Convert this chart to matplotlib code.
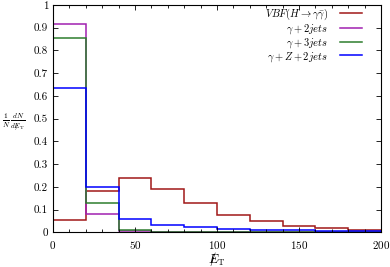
import matplotlib
matplotlib.use('Agg')
import matplotlib.pyplot as plt
from matplotlib.ticker import MultipleLocator, FormatStrFormatter
import numpy as np

plt.rcParams['font.family'] = 'serif'
plt.rcParams['font.serif'] = ['cmr10']
plt.rcParams['mathtext.fontset'] = 'cm'
plt.rcParams['axes.formatter.use_mathtext'] = True

# bin edges (missing E_T), 20 GeV bins
edges = np.arange(0, 201, 20)

vbf = [0.055, 0.18, 0.24, 0.19, 0.127, 0.077, 0.048, 0.028, 0.018, 0.010]
gam2j = [0.915, 0.08, 0.004, 0.001, 0.0, 0.0, 0.0, 0.0, 0.0, 0.0]
gam3j = [0.855, 0.13, 0.010, 0.002, 0.0, 0.0, 0.0, 0.0, 0.0, 0.0]
gamz2j = [0.635, 0.20, 0.058, 0.033, 0.022, 0.016, 0.010, 0.008, 0.006, 0.004]

labels = [r'$VBF(H\rightarrow\gamma\bar{\gamma})$', r'$\gamma + 2jets$',
          r'$\gamma + 3jets$', r'$\gamma + Z + 2jets$']
colors = ['#a01818', '#a020b0', '#2e7d2e', '#0000ff']

fig = plt.figure(figsize=(3.9, 2.67), dpi=100)
ax = fig.add_axes([0.136, 0.130, 0.841, 0.852])

for vals, lab, c in zip([vbf, gam2j, gam3j, gamz2j], labels, colors):
    ax.stairs(vals, edges, color=c, lw=1.1, label=lab, baseline=0)

ax.set_xlim(0, 200)
ax.set_ylim(0, 1)
ax.xaxis.set_major_locator(MultipleLocator(50))
ax.xaxis.set_minor_locator(MultipleLocator(10))
ax.yaxis.set_major_locator(MultipleLocator(0.1))
ax.yaxis.set_major_formatter(FormatStrFormatter('%g'))
ax.tick_params(which='both', direction='in', top=True, right=True, labelsize=8, width=0.6)
ax.tick_params(which='major', length=3.5)
ax.tick_params(axis='x', pad=5)
ax.tick_params(which='minor', length=2)
for s in ax.spines.values():
    s.set_linewidth(0.8)

ax.legend(loc='upper right', frameon=False, markerfirst=False, fontsize=7.5,
          handlelength=2.1, handletextpad=1.2, labelspacing=0.0,
          borderaxespad=0.0, bbox_to_anchor=(0.955, 1.01))

fig.text(0.005, 0.543, r'$\frac{1}{N}\,\frac{dN}{d/\!\!\!\!E_{\mathrm{T}}}$', fontsize=7.5, va='center', ha='left')
fig.text(0.556, 0.03, r'$/\!\!\!\!E_{\mathrm{T}}$', fontsize=9, ha='center', va='center')

fig.savefig('out.png', dpi=100)
